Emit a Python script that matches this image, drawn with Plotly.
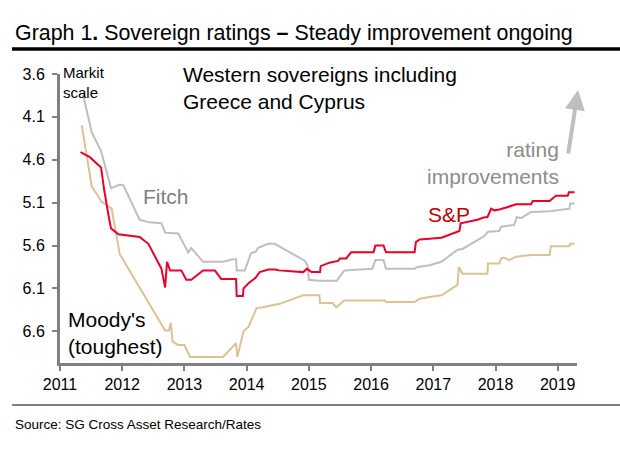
import plotly.graph_objects as go

# ---- data (decimal years, Markit scale) ----
fitch_t = [2011.37, 2011.51, 2011.66, 2011.82, 2011.96, 2012.02, 2012.28, 2012.44, 2012.63, 2012.69,
           2012.90, 2013.06, 2013.11, 2013.30, 2013.62, 2013.78, 2013.83, 2013.84, 2013.97, 2014.07,
           2014.15, 2014.18, 2014.34, 2014.45, 2014.94, 2014.98, 2015.00, 2015.17, 2015.45, 2015.57,
           2016.02, 2016.07, 2016.20, 2016.24, 2016.70, 2016.75, 2016.94, 2017.13, 2017.39, 2017.47,
           2017.82, 2017.88, 2018.06, 2018.09, 2018.30, 2018.34, 2018.41, 2018.57, 2018.87, 2019.19,
           2019.20, 2019.27]
fitch_v = [3.84, 4.28, 4.50, 4.93, 4.89, 4.90, 5.30, 5.33, 5.34, 5.45,
           5.46, 5.68, 5.63, 5.79, 5.79, 5.76, 5.76, 5.89, 5.89, 5.69,
           5.67, 5.63, 5.58, 5.58, 5.78, 5.84, 6.00, 6.01, 6.01, 5.89,
           5.87, 5.77, 5.77, 5.87, 5.87, 5.85, 5.83, 5.79, 5.65, 5.64,
           5.49, 5.44, 5.43, 5.38, 5.36, 5.27, 5.28, 5.21, 5.20, 5.17,
           5.11, 5.11]

sp_t = [2011.33, 2011.48, 2011.66, 2011.71, 2011.78, 2011.82, 2011.94, 2012.28, 2012.42, 2012.63,
        2012.69, 2012.72, 2012.77, 2012.95, 2013.03, 2013.11, 2013.30, 2013.49, 2013.59, 2013.83,
        2013.84, 2013.94, 2013.95, 2014.03, 2014.14, 2014.21, 2014.35, 2014.46, 2014.52, 2014.91,
        2014.97, 2015.04, 2015.18, 2015.19, 2015.33, 2015.47, 2015.50, 2015.60, 2015.68, 2016.04,
        2016.07, 2016.20, 2016.24, 2016.70, 2016.72, 2016.78, 2016.94, 2017.13, 2017.42, 2017.44,
        2017.71, 2017.82, 2017.87, 2017.93, 2017.98, 2018.06, 2018.20, 2018.33, 2018.57, 2018.60,
        2018.87, 2018.97, 2019.16, 2019.18, 2019.27]
sp_v = [4.51, 4.57, 4.69, 4.95, 5.25, 5.40, 5.47, 5.50, 5.58, 5.87,
        6.09, 5.79, 5.89, 5.89, 6.00, 6.00, 5.89, 5.89, 5.99, 5.99,
        6.19, 6.19, 6.10, 6.04, 5.98, 5.91, 5.88, 5.88, 5.89, 5.91,
        5.87, 5.91, 5.91, 5.84, 5.80, 5.78, 5.75, 5.75, 5.68, 5.68,
        5.60, 5.60, 5.68, 5.68, 5.56, 5.53, 5.52, 5.51, 5.43, 5.34,
        5.30, 5.27, 5.27, 5.17, 5.19, 5.18, 5.15, 5.12, 5.12, 5.08,
        5.08, 5.02, 5.02, 4.98, 4.98]

moodys_t = [2011.35, 2011.51, 2011.67, 2011.78, 2011.83, 2011.96, 2012.69, 2012.75, 2012.78, 2012.81,
            2012.90, 2013.00, 2013.09, 2013.62, 2013.83, 2013.85, 2013.95, 2014.03, 2014.10, 2014.16,
            2014.26, 2014.53, 2014.91, 2015.17, 2015.18, 2015.38, 2015.44, 2015.57, 2016.22, 2016.24,
            2016.70, 2016.78, 2016.94, 2017.13, 2017.39, 2017.41, 2017.47, 2017.87, 2017.88, 2018.06,
            2018.09, 2018.14, 2018.22, 2018.33, 2018.57, 2018.87, 2018.89, 2019.19, 2019.20, 2019.27]
moodys_v = [4.20, 4.91, 5.09, 5.14, 5.17, 5.70, 6.59, 6.59, 6.50, 6.72,
            6.76, 6.76, 6.90, 6.90, 6.74, 6.90, 6.60, 6.55, 6.43, 6.33,
            6.32, 6.28, 6.18, 6.18, 6.27, 6.27, 6.32, 6.24, 6.24, 6.26,
            6.26, 6.22, 6.20, 6.18, 6.06, 5.85, 5.93, 5.93, 5.81, 5.81,
            5.75, 5.74, 5.77, 5.73, 5.71, 5.71, 5.61, 5.61, 5.58, 5.58]

year_ticks = [2011, 2012, 2013, 2014, 2015, 2016, 2017, 2018, 2019]
y_ticks = [3.6, 4.1, 4.6, 5.1, 5.6, 6.1, 6.6]

FONT = "Liberation Sans, Arial, sans-serif"
W, H = 620, 453
L, R, T, B = 60, 43, 74, 90
PW, PH = W - L - R, H - T - B


def px(x):
    return (x - L) / PW


def py(y):
    return 1 - (y - T) / PH


fig = go.Figure()
fig.add_trace(go.Scatter(x=fitch_t, y=fitch_v, mode="lines", line=dict(color="#BFBFBF", width=2), name="Fitch"))
fig.add_trace(go.Scatter(x=moodys_t, y=moodys_v, mode="lines", line=dict(color="#D9C397", width=2), name="Moody's"))
fig.add_trace(go.Scatter(x=sp_t, y=sp_v, mode="lines", line=dict(color="#E8002A", width=2), name="S&P"))

fig.update_layout(
    width=W, height=H, showlegend=False,
    margin=dict(l=L, r=R, t=T, b=B),
    paper_bgcolor="white", plot_bgcolor="white",
    font=dict(family=FONT, size=13, color="black"),
    xaxis=dict(range=[2011, 2019.31], tickvals=year_ticks, ticktext=[str(y) for y in year_ticks],
               showgrid=False, zeroline=False, showline=True, linecolor="#808080", linewidth=3,
               ticks="outside", ticklen=5, tickwidth=2, tickcolor="#808080",
               tickfont=dict(size=16, color="black")),
    yaxis=dict(range=[6.97, 3.6], tickvals=y_ticks, ticktext=[f"{v:.1f}" for v in y_ticks],
               showgrid=False, zeroline=False, showline=True, linecolor="#808080", linewidth=3,
               ticks="outside", ticklen=5, tickwidth=2, tickcolor="#808080", ticklabelstandoff=4,
               tickfont=dict(size=16, color="black")),
)

ann = [
    dict(x=px(13), y=py(33), text="Graph 1<b>.</b> Sovereign ratings <b>–</b> Steady improvement ongoing",
         xanchor="left", yanchor="middle", font=dict(size=21.4, color="black")),
    dict(x=px(13), y=py(424), text="Source: SG Cross Asset Research/Rates",
         xanchor="left", yanchor="middle", font=dict(size=13.5, color="black")),
    dict(x=px(61), y=py(82), text="Markit<br>scale", xanchor="left", yanchor="middle", align="left",
         font=dict(size=15, color="black")),
    dict(x=px(181), y=py(88), text="Western sovereigns including<br>Greece and Cyprus", xanchor="left",
         yanchor="middle", align="left", font=dict(size=21, color="black")),
    dict(x=px(141), y=py(196), text="Fitch", xanchor="left", yanchor="middle",
         font=dict(size=21, color="#7F7F7F")),
    dict(x=px(426), y=py(214), text="S&P", xanchor="left", yanchor="middle",
         font=dict(size=21, color="#C00000")),
    dict(x=px(66), y=py(333), text="Moody's<br>(toughest)", xanchor="left", yanchor="middle", align="left",
         font=dict(size=21, color="black")),
    dict(x=px(561), y=py(163), text="rating<br>improvements", xanchor="right", yanchor="middle", align="right",
         font=dict(size=21, color="#8C8C8C")),
    # arrow
    dict(x=px(578), y=py(90), ax=-10, ay=65, axref="pixel", ayref="pixel",
         text="", showarrow=True, arrowhead=2, arrowsize=1, arrowwidth=4, arrowcolor="#BFBFBF"),
]
for a in ann:
    a.setdefault("xref", "paper")
    a.setdefault("yref", "paper")
    a.setdefault("showarrow", False)
    fig.add_annotation(**a)

fig.add_shape(type="line", xref="paper", yref="paper", x0=px(12), x1=px(620), y0=py(49), y1=py(49),
              line=dict(color="black", width=3.5))
fig.add_shape(type="line", xref="paper", yref="paper", x0=px(12), x1=px(620), y0=py(405), y1=py(405),
              line=dict(color="#808080", width=2))

fig.write_html("out.html")
